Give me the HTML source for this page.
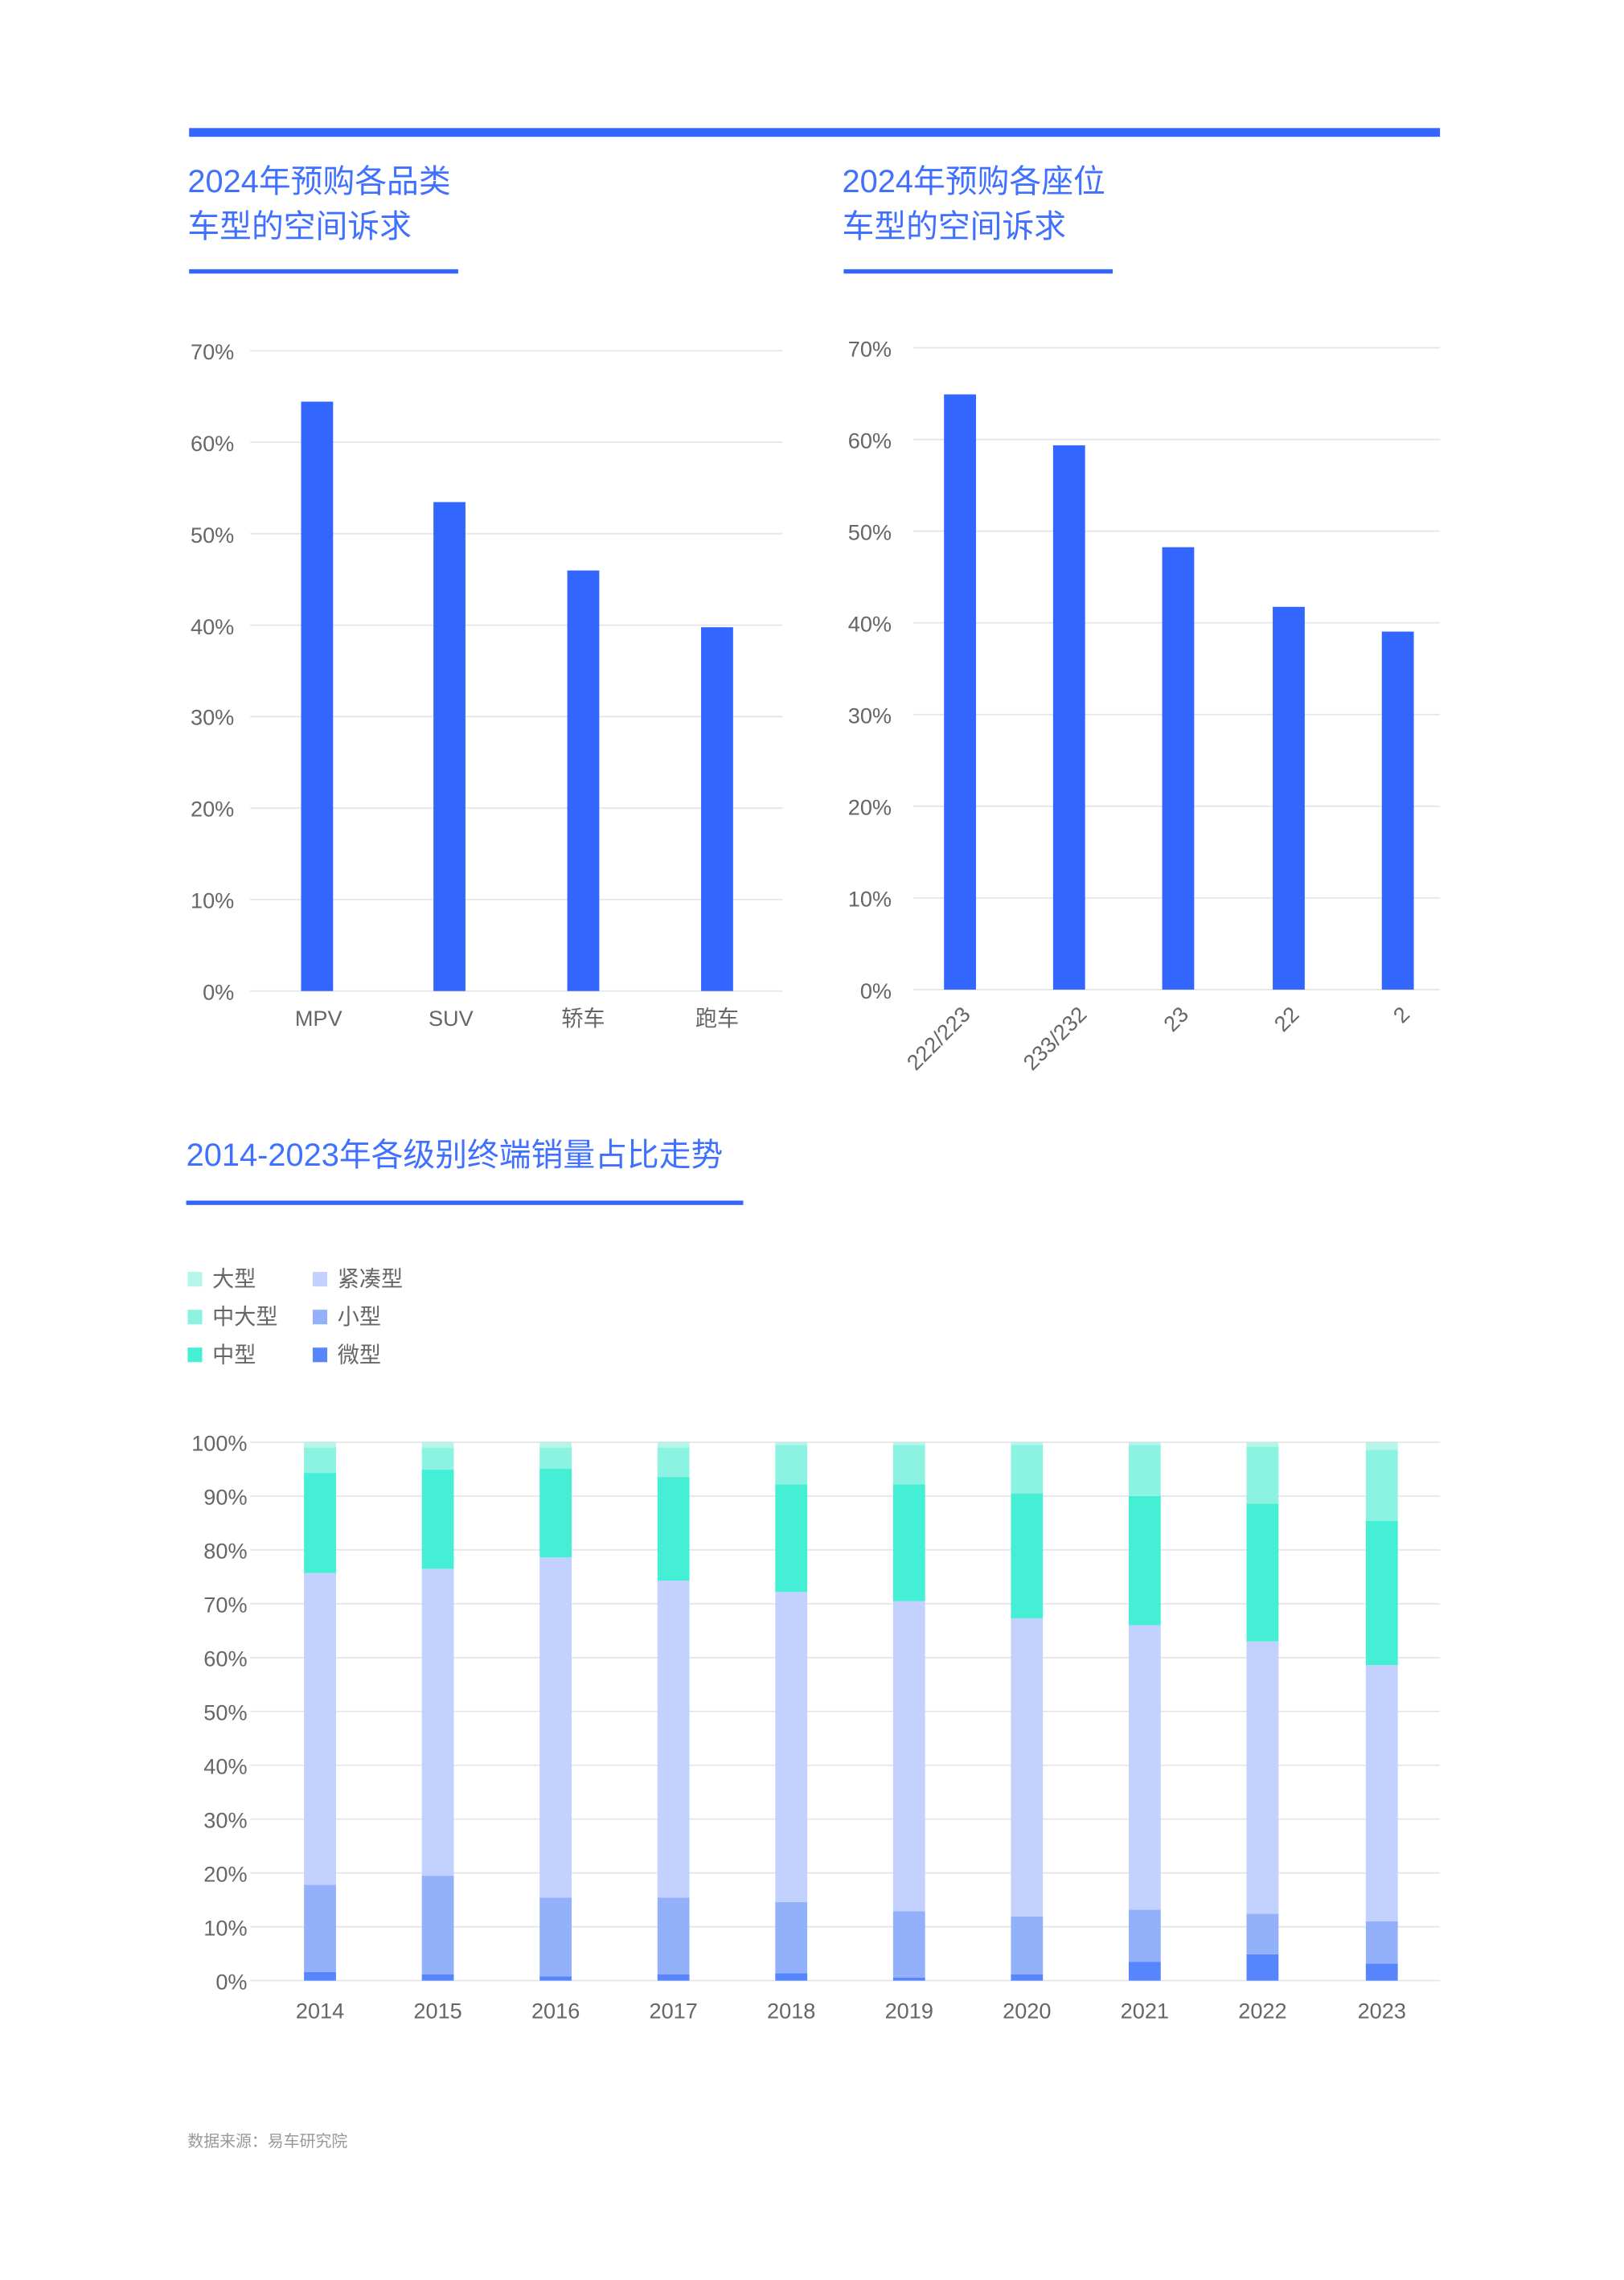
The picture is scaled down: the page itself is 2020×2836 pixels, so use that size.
<!DOCTYPE html>
<html><head><meta charset="utf-8"><style>
html,body{margin:0;padding:0;background:#fff;}
svg{display:block;}
text{font-family:"Liberation Sans","Noto Sans CJK SC",sans-serif;}
</style></head><body>
<svg width="2020" height="2836" viewBox="0 0 1116.5 1566.7" preserveAspectRatio="none" xmlns="http://www.w3.org/2000/svg">
<rect x="130" y="88" width="860" height="6" fill="#3366ff"/>
<g fill="#4070ff" font-size="22">
<text x="129" y="132">2024年预购各品类</text>
<text x="129" y="163">车型的空间诉求</text>
<text x="579" y="132">2024年预购各座位</text>
<text x="579" y="163">车型的空间诉求</text>
<text x="128" y="801">2014-2023年各级别终端销量占比走势</text>
</g>
<rect x="130" y="185" width="185" height="3" fill="#3366ff"/>
<rect x="580" y="185" width="185" height="3" fill="#3366ff"/>
<rect x="128" y="825" width="383" height="3" fill="#3366ff"/>

<g stroke="#e6e6e6" stroke-width="1">
<line x1="172" x2="538" y1="241" y2="241"/><line x1="172" x2="538" y1="303.9" y2="303.9"/>
<line x1="172" x2="538" y1="366.7" y2="366.7"/><line x1="172" x2="538" y1="429.6" y2="429.6"/>
<line x1="172" x2="538" y1="492.4" y2="492.4"/><line x1="172" x2="538" y1="555.3" y2="555.3"/>
<line x1="172" x2="538" y1="618.1" y2="618.1"/><line x1="172" x2="538" y1="681" y2="681"/>
</g>
<g fill="#666" font-size="15" text-anchor="end">
<text x="161" y="247">70%</text><text x="161" y="310">60%</text><text x="161" y="373">50%</text>
<text x="161" y="436">40%</text><text x="161" y="498">30%</text><text x="161" y="561">20%</text>
<text x="161" y="624">10%</text><text x="161" y="687">0%</text>
</g>
<g fill="#3366ff">
<rect x="207" y="276" width="22" height="405"/><rect x="298" y="345" width="22" height="336"/>
<rect x="390" y="392" width="22" height="289"/><rect x="482" y="431" width="22" height="250"/>
</g>
<g fill="#666" font-size="15" text-anchor="middle">
<text x="219" y="705">MPV</text><text x="310" y="705">SUV</text><text x="401" y="705">轿车</text><text x="493" y="705">跑车</text>
</g>

<g stroke="#e6e6e6" stroke-width="1">
<line x1="628" x2="990" y1="239" y2="239"/><line x1="628" x2="990" y1="302" y2="302"/>
<line x1="628" x2="990" y1="365" y2="365"/><line x1="628" x2="990" y1="428" y2="428"/>
<line x1="628" x2="990" y1="491" y2="491"/><line x1="628" x2="990" y1="554" y2="554"/>
<line x1="628" x2="990" y1="617" y2="617"/><line x1="628" x2="990" y1="680" y2="680"/>
</g>
<g fill="#666" font-size="15" text-anchor="end">
<text x="613" y="245">70%</text><text x="613" y="308">60%</text><text x="613" y="371">50%</text>
<text x="613" y="434">40%</text><text x="613" y="497">30%</text><text x="613" y="560">20%</text>
<text x="613" y="623">10%</text><text x="613" y="686">0%</text>
</g>
<g fill="#3366ff">
<rect x="649" y="271" width="22" height="409"/><rect x="724" y="306" width="22" height="374"/>
<rect x="799" y="376" width="22" height="304"/><rect x="875" y="417" width="22" height="263"/>
<rect x="950" y="434" width="22" height="246"/>
</g>
<g fill="#666" font-size="15" text-anchor="end">
<text transform="translate(668,698) rotate(-45)">222/223</text>
<text transform="translate(748,698) rotate(-45)">233/232</text>
<text transform="translate(818,698) rotate(-45)">23</text>
<text transform="translate(894,698) rotate(-45)">22</text>
<text transform="translate(970,698) rotate(-45)">2</text>
</g>

<g font-size="15" fill="#666">
<rect x="129" y="874" width="10" height="10" fill="#b5f5ea"/><text x="146" y="884">大型</text>
<rect x="129" y="900" width="10" height="10" fill="#8cf3e3"/><text x="146" y="910">中大型</text>
<rect x="129" y="926" width="10" height="10" fill="#44efd6"/><text x="146" y="936">中型</text>
<rect x="215" y="874" width="10" height="10" fill="#c2d1fd"/><text x="232" y="884">紧凑型</text>
<rect x="215" y="900" width="10" height="10" fill="#93b0fb"/><text x="232" y="910">小型</text>
<rect x="215" y="926" width="10" height="10" fill="#5785fb"/><text x="232" y="936">微型</text>
</g>

<g stroke="#e6e6e6" stroke-width="1">
<line x1="172" x2="990" y1="991" y2="991"/><line x1="172" x2="990" y1="1028" y2="1028"/>
<line x1="172" x2="990" y1="1065" y2="1065"/><line x1="172" x2="990" y1="1102" y2="1102"/>
<line x1="172" x2="990" y1="1139" y2="1139"/><line x1="172" x2="990" y1="1176" y2="1176"/>
<line x1="172" x2="990" y1="1213" y2="1213"/><line x1="172" x2="990" y1="1250" y2="1250"/>
<line x1="172" x2="990" y1="1287" y2="1287"/><line x1="172" x2="990" y1="1324" y2="1324"/>
<line x1="172" x2="990" y1="1361" y2="1361"/>
</g>
<g fill="#666" font-size="15" text-anchor="end">
<text x="170" y="997">100%</text><text x="170" y="1034">90%</text><text x="170" y="1071">80%</text>
<text x="170" y="1108">70%</text><text x="170" y="1145">60%</text><text x="170" y="1182">50%</text>
<text x="170" y="1219">40%</text><text x="170" y="1256">30%</text><text x="170" y="1293">20%</text>
<text x="170" y="1330">10%</text><text x="170" y="1367">0%</text>
</g>
<g fill="#666" font-size="15" text-anchor="middle">
<text x="220" y="1387">2014</text><text x="301" y="1387">2015</text><text x="382" y="1387">2016</text>
<text x="463" y="1387">2017</text><text x="544" y="1387">2018</text><text x="625" y="1387">2019</text>
<text x="706" y="1387">2020</text><text x="787" y="1387">2021</text><text x="868" y="1387">2022</text>
<text x="950" y="1387">2023</text>
</g>
<g>
<rect x="209" y="1355.1" width="22" height="5.9" fill="#5785fb"/><rect x="209" y="1295.1" width="22" height="60" fill="#93b0fb"/><rect x="209" y="1080.9" width="22" height="214.2" fill="#c2d1fd"/><rect x="209" y="1012.1" width="22" height="68.8" fill="#44efd6"/><rect x="209" y="994.7" width="22" height="17.4" fill="#8cf3e3"/><rect x="209" y="991" width="22" height="3.7" fill="#b5f5ea"/>
<rect x="290" y="1356.6" width="22" height="4.4" fill="#5785fb"/><rect x="290" y="1288.9" width="22" height="67.7" fill="#93b0fb"/><rect x="290" y="1078" width="22" height="210.9" fill="#c2d1fd"/><rect x="290" y="1009.9" width="22" height="68.1" fill="#44efd6"/><rect x="290" y="994.7" width="22" height="15.2" fill="#8cf3e3"/><rect x="290" y="991" width="22" height="3.7" fill="#b5f5ea"/>
<rect x="371" y="1358" width="22" height="3" fill="#5785fb"/><rect x="371" y="1304" width="22" height="54" fill="#93b0fb"/><rect x="371" y="1070.2" width="22" height="233.8" fill="#c2d1fd"/><rect x="371" y="1009.1" width="22" height="61.1" fill="#44efd6"/><rect x="371" y="994.7" width="22" height="14.4" fill="#8cf3e3"/><rect x="371" y="991" width="22" height="3.7" fill="#b5f5ea"/>
<rect x="452" y="1356.6" width="22" height="4.4" fill="#5785fb"/><rect x="452" y="1304" width="22" height="52.6" fill="#93b0fb"/><rect x="452" y="1086.1" width="22" height="217.9" fill="#c2d1fd"/><rect x="452" y="1015.1" width="22" height="71" fill="#44efd6"/><rect x="452" y="994.7" width="22" height="20.4" fill="#8cf3e3"/><rect x="452" y="991" width="22" height="3.7" fill="#b5f5ea"/>
<rect x="533" y="1355.8" width="22" height="5.2" fill="#5785fb"/><rect x="533" y="1307" width="22" height="48.8" fill="#93b0fb"/><rect x="533" y="1093.9" width="22" height="213.1" fill="#c2d1fd"/><rect x="533" y="1019.9" width="22" height="74" fill="#44efd6"/><rect x="533" y="992.9" width="22" height="27" fill="#8cf3e3"/><rect x="533" y="991" width="22" height="1.9" fill="#b5f5ea"/>
<rect x="614" y="1358.8" width="22" height="2.2" fill="#5785fb"/><rect x="614" y="1313.3" width="22" height="45.5" fill="#93b0fb"/><rect x="614" y="1100.2" width="22" height="213.1" fill="#c2d1fd"/><rect x="614" y="1019.9" width="22" height="80.3" fill="#44efd6"/><rect x="614" y="992.9" width="22" height="27" fill="#8cf3e3"/><rect x="614" y="991" width="22" height="1.9" fill="#b5f5ea"/>
<rect x="695" y="1356.6" width="22" height="4.4" fill="#5785fb"/><rect x="695" y="1317" width="22" height="39.6" fill="#93b0fb"/><rect x="695" y="1112" width="22" height="205" fill="#c2d1fd"/><rect x="695" y="1026.2" width="22" height="85.8" fill="#44efd6"/><rect x="695" y="992.9" width="22" height="33.3" fill="#8cf3e3"/><rect x="695" y="991" width="22" height="1.9" fill="#b5f5ea"/>
<rect x="776" y="1348" width="22" height="13" fill="#5785fb"/><rect x="776" y="1312.2" width="22" height="35.8" fill="#93b0fb"/><rect x="776" y="1116.8" width="22" height="195.4" fill="#c2d1fd"/><rect x="776" y="1028" width="22" height="88.8" fill="#44efd6"/><rect x="776" y="992.9" width="22" height="35.1" fill="#8cf3e3"/><rect x="776" y="991" width="22" height="1.9" fill="#b5f5ea"/>
<rect x="857" y="1342.9" width="22" height="18.1" fill="#5785fb"/><rect x="857" y="1315.1" width="22" height="27.8" fill="#93b0fb"/><rect x="857" y="1127.9" width="22" height="187.2" fill="#c2d1fd"/><rect x="857" y="1033.2" width="22" height="94.7" fill="#44efd6"/><rect x="857" y="994" width="22" height="39.2" fill="#8cf3e3"/><rect x="857" y="991" width="22" height="3" fill="#b5f5ea"/>
<rect x="939" y="1349.2" width="22" height="11.8" fill="#5785fb"/><rect x="939" y="1320.3" width="22" height="28.9" fill="#93b0fb"/><rect x="939" y="1144.2" width="22" height="176.1" fill="#c2d1fd"/><rect x="939" y="1045" width="22" height="99.2" fill="#44efd6"/><rect x="939" y="996.2" width="22" height="48.8" fill="#8cf3e3"/><rect x="939" y="991" width="22" height="5.2" fill="#b5f5ea"/>
</g>

<text x="129" y="1475" font-size="11" fill="#999">数据来源：易车研究院</text>
</svg>
</body></html>
